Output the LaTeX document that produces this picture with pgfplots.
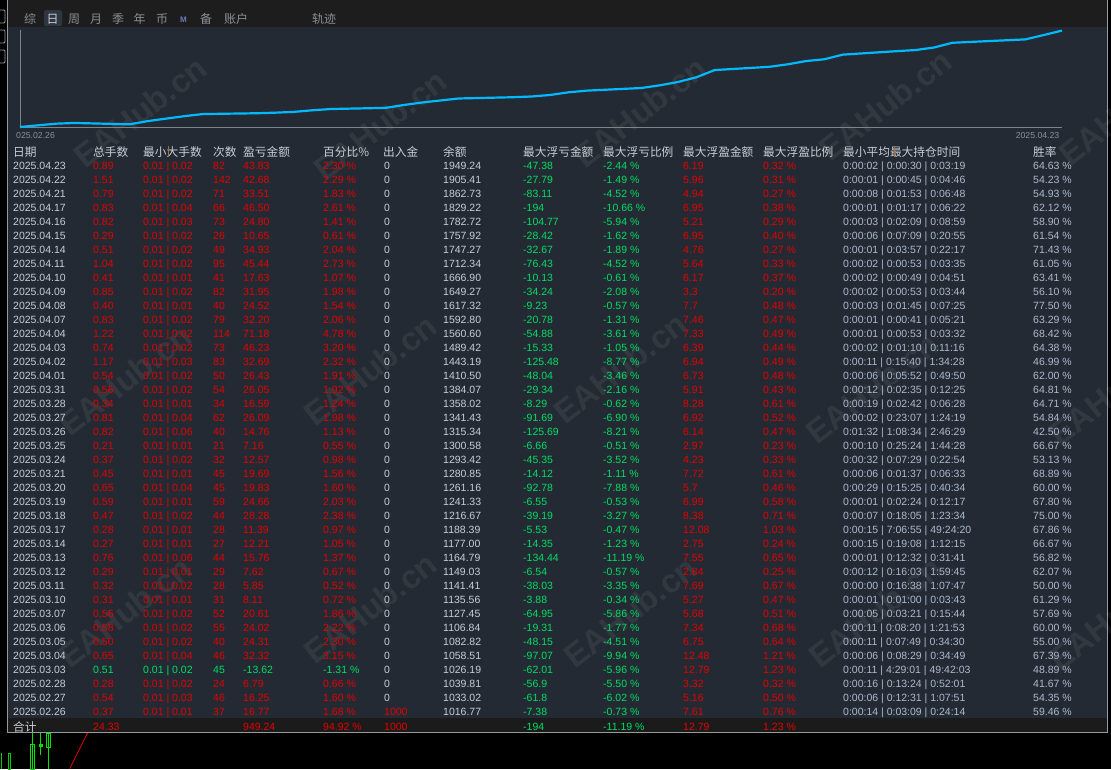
\documentclass[border=0pt]{standalone}
\usepackage{pgfplots}
\pgfplotsset{compat=1.18}
\usepackage{fontspec}
\setmainfont{Liberation Sans}
\newfontfamily\cjk{Noto Sans CJK SC}
\definecolor{panel}{RGB}{36,42,51}
\definecolor{topbar}{RGB}{29,29,29}
\definecolor{totbg}{RGB}{27,27,28}
\definecolor{txt}{RGB}{200,206,214}
\definecolor{rd}{RGB}{228,0,0}
\definecolor{gn}{RGB}{0,222,100}
\definecolor{bl}{RGB}{172,186,206}
\definecolor{cy}{RGB}{0,185,255}
\definecolor{axg}{RGB}{128,132,138}
\definecolor{tabg}{RGB}{138,143,150}
\definecolor{brd}{RGB}{150,155,162}
\definecolor{orb}{RGB}{160,115,60}
\definecolor{tabsel}{RGB}{46,54,65}
\definecolor{mcol}{RGB}{110,120,190}
\newcommand\tf{\fontsize{10.5}{12}\selectfont}
\newcommand\hf{\cjk\fontsize{11.7}{13}\selectfont}
\newcommand\Cc[4]{\node[anchor=base west,inner sep=0pt,text=#3,font=\tf] at (#1,#2) {#4};}
\newcommand\Hh[2]{\node[anchor=base west,inner sep=0pt,text=txt,font=\hf] at (#1,156) {#2};}
\newcommand\Tt[3]{\node[anchor=base west,inner sep=0pt,text=#2,font=\cjk\fontsize{12}{13}\selectfont] at (#1,23) {#3};}
\begin{document}
\begin{tikzpicture}
\useasboundingbox (0,0) rectangle (1111pt,-769pt);
\fill[black] (0,0) rectangle (1111pt,-769pt);
\begin{scope}[x=1pt,y=-1pt]
\fill[topbar] (7,0) rectangle (1107,27);
\fill[panel] (7,27) rectangle (1107,718);
\fill[totbg] (7.5,718) rectangle (1107,732);
\draw[brd,line width=0.9pt] (7,0) -- (7,732.5) -- (1107.5,732.5) -- (1107.5,0);
% sidebar boxes
\foreach \yy in {10,30,50} \draw[brd,line width=0.8pt,rounded corners=1pt] (-2,\yy) rectangle (5,\yy+13);
% background candles
\draw[green!80!black,line width=1pt] (1,753) -- (1,769);
\draw[green!80!black,line width=1pt] (8,753) rectangle (10.5,769);
\draw[green!90!black,line width=1pt] (32.5,733) -- (32.5,769);
\draw[green!90!black,line width=1pt] (30.5,744) rectangle (34.5,769);
\draw[green!90!black,line width=1pt] (40.5,733) -- (40.5,755);
\fill[green!90!black] (38.5,744) rectangle (43,747);
\draw[green!90!black,line width=1pt] (48.5,733) -- (48.5,769);
\draw[green!90!black,line width=1pt] (46.5,733) rectangle (50.5,747);
\draw[red,line width=0.7pt] (87.5,733) -- (69.6,769);
% tabs
\fill[tabsel,rounded corners=1.5pt] (44,10) rectangle (62,26);
\Tt{24}{tabg}{综}\Tt{46.5}{txt}{日}\Tt{68}{tabg}{周}\Tt{90}{tabg}{月}\Tt{112}{tabg}{季}\Tt{133.5}{tabg}{年}\Tt{156}{tabg}{币}
\node[anchor=base west,inner sep=0pt,text=mcol,font=\fontsize{8}{9}\selectfont\bfseries] at (180,22) {M};
\Tt{200}{tabg}{备}\Tt{224}{tabg}{账户}\Tt{312}{tabg}{轨迹}
% watermarks
\foreach \wx/\wy in {140/112,380/125,640/112,885/105,1125/110,125/380,370/370,620/368,872/388,1115/390,125/612,370/608,630/612,875/612,1115/615}
  \node[rotate=38,text=white,opacity=0.065,inner sep=0pt,font=\fontsize{33}{33}\selectfont\bfseries] at (\wx,\wy) {EAHub.cn};
% axis tick labels
\node[anchor=base west,inner sep=0pt,text=tabg,font=\fontsize{8.7}{9}\selectfont] at (16,138) {025.02.26};
\node[anchor=base east,inner sep=0pt,text=tabg,font=\fontsize{8.7}{9}\selectfont] at (1059.5,138) {2025.04.23};
% header
\Hh{13}{日期}\Hh{93}{总手数}\Hh{143}{最小大手数}\Hh{213}{次数}\Hh{243}{盈亏金额}\Hh{323}{百分比\%}\Hh{383}{出入金}
\Hh{443}{余额}\Hh{523}{最大浮亏金额}\Hh{603}{最大浮亏比例}\Hh{683}{最大浮盈金额}\Hh{763}{最大浮盈比例}\Hh{843}{最小平均最大持仓时间}\Hh{1033}{胜率}
\draw[orb,line width=1pt] (168,146) -- (168,157);
\draw[orb,line width=1pt] (894,146) -- (894,157);
% rows
\foreach \y/\cl/\d/\lot/\lo/\hi/\n/\pl/\pc/\ic/\io/\bal/\dd/\ddp/\rp/\rpp/\ta/\tb/\tc/\w in {
169/rd/2025.04.23/0.89/0.01/0.02/82/43.83/2.30/txt/0/1949.24/-47.38/-2.44/6.19/0.32/0:00:02/0:00:30/0:03:19/64.63,
183/rd/2025.04.22/1.51/0.01/0.02/142/42.68/2.29/txt/0/1905.41/-27.79/-1.49/5.96/0.31/0:00:01/0:00:45/0:04:46/54.23,
197/rd/2025.04.21/0.79/0.01/0.02/71/33.51/1.83/txt/0/1862.73/-83.11/-4.52/4.94/0.27/0:00:08/0:01:53/0:06:48/54.93,
211/rd/2025.04.17/0.83/0.01/0.04/66/46.50/2.61/txt/0/1829.22/-194/-10.66/6.95/0.38/0:00:01/0:01:17/0:06:22/62.12,
225/rd/2025.04.16/0.82/0.01/0.03/73/24.80/1.41/txt/0/1782.72/-104.77/-5.94/5.21/0.29/0:00:03/0:02:09/0:08:59/58.90,
239/rd/2025.04.15/0.29/0.01/0.02/26/10.65/0.61/txt/0/1757.92/-28.42/-1.62/6.95/0.40/0:00:06/0:07:09/0:20:55/61.54,
253/rd/2025.04.14/0.51/0.01/0.02/49/34.93/2.04/txt/0/1747.27/-32.67/-1.89/4.76/0.27/0:00:01/0:03:57/0:22:17/71.43,
267/rd/2025.04.11/1.04/0.01/0.02/95/45.44/2.73/txt/0/1712.34/-76.43/-4.52/5.64/0.33/0:00:02/0:00:53/0:03:35/61.05,
281/rd/2025.04.10/0.41/0.01/0.01/41/17.63/1.07/txt/0/1666.90/-10.13/-0.61/6.17/0.37/0:00:02/0:00:49/0:04:51/63.41,
295/rd/2025.04.09/0.85/0.01/0.02/82/31.95/1.98/txt/0/1649.27/-34.24/-2.08/3.3/0.20/0:00:02/0:00:53/0:03:44/56.10,
309/rd/2025.04.08/0.40/0.01/0.01/40/24.52/1.54/txt/0/1617.32/-9.23/-0.57/7.7/0.48/0:00:03/0:01:45/0:07:25/77.50,
323/rd/2025.04.07/0.83/0.01/0.02/79/32.20/2.06/txt/0/1592.80/-20.78/-1.31/7.46/0.47/0:00:01/0:00:41/0:05:21/63.29,
337/rd/2025.04.04/1.22/0.01/0.02/114/71.18/4.78/txt/0/1560.60/-54.88/-3.61/7.33/0.49/0:00:01/0:00:53/0:03:32/68.42,
351/rd/2025.04.03/0.74/0.01/0.02/73/46.23/3.20/txt/0/1489.42/-15.33/-1.05/6.39/0.44/0:00:02/0:01:10/0:11:16/64.38,
365/rd/2025.04.02/1.17/0.01/0.03/83/32.69/2.32/txt/0/1443.19/-125.48/-8.77/6.94/0.49/0:00:11/0:15:40/1:34:28/46.99,
379/rd/2025.04.01/0.54/0.01/0.02/50/26.43/1.91/txt/0/1410.50/-48.04/-3.46/6.73/0.48/0:00:06/0:05:52/0:49:50/62.00,
393/rd/2025.03.31/0.56/0.01/0.02/54/26.05/1.92/txt/0/1384.07/-29.34/-2.16/5.91/0.43/0:00:12/0:02:35/0:12:25/64.81,
407/rd/2025.03.28/0.34/0.01/0.01/34/16.59/1.24/txt/0/1358.02/-8.29/-0.62/8.28/0.61/0:00:19/0:02:42/0:06:28/64.71,
421/rd/2025.03.27/0.81/0.01/0.04/62/26.09/1.98/txt/0/1341.43/-91.69/-6.90/6.92/0.52/0:00:02/0:23:07/1:24:19/54.84,
435/rd/2025.03.26/0.82/0.01/0.06/40/14.76/1.13/txt/0/1315.34/-125.69/-8.21/6.14/0.47/0:01:32/1:08:34/2:46:29/42.50,
449/rd/2025.03.25/0.21/0.01/0.01/21/7.16/0.55/txt/0/1300.58/-6.66/-0.51/2.97/0.23/0:00:10/0:25:24/1:44:28/66.67,
463/rd/2025.03.24/0.37/0.01/0.02/32/12.57/0.98/txt/0/1293.42/-45.35/-3.52/4.23/0.33/0:00:32/0:07:29/0:22:54/53.13,
477/rd/2025.03.21/0.45/0.01/0.01/45/19.69/1.56/txt/0/1280.85/-14.12/-1.11/7.72/0.61/0:00:06/0:01:37/0:06:33/68.89,
491/rd/2025.03.20/0.65/0.01/0.04/45/19.83/1.60/txt/0/1261.16/-92.78/-7.88/5.7/0.46/0:00:29/0:15:25/0:40:34/60.00,
505/rd/2025.03.19/0.59/0.01/0.01/59/24.66/2.03/txt/0/1241.33/-6.55/-0.53/6.99/0.58/0:00:01/0:02:24/0:12:17/67.80,
519/rd/2025.03.18/0.47/0.01/0.02/44/28.28/2.38/txt/0/1216.67/-39.19/-3.27/8.38/0.71/0:00:07/0:18:05/1:23:34/75.00,
533/rd/2025.03.17/0.28/0.01/0.01/28/11.39/0.97/txt/0/1188.39/-5.53/-0.47/12.08/1.03/0:00:15/7:06:55/49:24:20/67.86,
547/rd/2025.03.14/0.27/0.01/0.01/27/12.21/1.05/txt/0/1177.00/-14.35/-1.23/2.75/0.24/0:00:15/0:19:08/1:12:15/66.67,
561/rd/2025.03.13/0.76/0.01/0.06/44/15.76/1.37/txt/0/1164.79/-134.44/-11.19/7.55/0.65/0:00:01/0:12:32/0:31:41/56.82,
575/rd/2025.03.12/0.29/0.01/0.01/29/7.62/0.67/txt/0/1149.03/-6.54/-0.57/2.84/0.25/0:00:12/0:16:03/1:59:45/62.07,
589/rd/2025.03.11/0.32/0.01/0.02/28/5.85/0.52/txt/0/1141.41/-38.03/-3.35/7.69/0.67/0:00:00/0:16:38/1:07:47/50.00,
603/rd/2025.03.10/0.31/0.01/0.01/31/8.11/0.72/txt/0/1135.56/-3.88/-0.34/5.27/0.47/0:00:01/0:01:00/0:03:43/61.29,
617/rd/2025.03.07/0.56/0.01/0.02/52/20.61/1.86/txt/0/1127.45/-64.95/-5.86/5.68/0.51/0:00:05/0:03:21/0:15:44/57.69,
631/rd/2025.03.06/0.58/0.01/0.02/55/24.02/2.22/txt/0/1106.84/-19.31/-1.77/7.34/0.68/0:00:11/0:08:20/1:21:53/60.00,
645/rd/2025.03.05/0.50/0.01/0.02/40/24.31/2.30/txt/0/1082.82/-48.15/-4.51/6.75/0.64/0:00:11/0:07:49/0:34:30/55.00,
659/rd/2025.03.04/0.65/0.01/0.04/46/32.32/3.15/txt/0/1058.51/-97.07/-9.94/12.48/1.21/0:00:06/0:08:29/0:34:49/67.39,
673/gn/2025.03.03/0.51/0.01/0.02/45/-13.62/-1.31/txt/0/1026.19/-62.01/-5.96/12.79/1.23/0:00:11/4:29:01/49:42:03/48.89,
687/rd/2025.02.28/0.28/0.01/0.02/24/6.79/0.66/txt/0/1039.81/-56.9/-5.50/3.32/0.32/0:00:16/0:13:24/0:52:01/41.67,
701/rd/2025.02.27/0.54/0.01/0.03/46/16.25/1.60/txt/0/1033.02/-61.8/-6.02/5.16/0.50/0:00:06/0:12:31/1:07:51/54.35,
715/rd/2025.02.26/0.37/0.01/0.01/37/16.77/1.68/rd/1000/1016.77/-7.38/-0.73/7.61/0.76/0:00:14/0:03:09/0:24:14/59.46}{
\Cc{13}{\y}{txt}{\d}\Cc{93}{\y}{\cl}{\lot}\Cc{143}{\y}{\cl}{\lo\ |\ \hi}\Cc{213}{\y}{\cl}{\n}\Cc{243}{\y}{\cl}{\pl}\Cc{323}{\y}{\cl}{\pc\ \%}
\Cc{384}{\y}{\ic}{\io}\Cc{443}{\y}{txt}{\bal}\Cc{523}{\y}{gn}{\dd}\Cc{603}{\y}{gn}{\ddp\ \%}\Cc{683}{\y}{rd}{\rp}\Cc{763}{\y}{rd}{\rpp\ \%}
\Cc{843}{\y}{bl}{\ta\ |\ \tb\ |\ \tc}\Cc{1033}{\y}{bl}{\w\ \%}
}
% total row
\node[anchor=base west,inner sep=0pt,text=txt,font=\hf] at (13,731) {合计};
\Cc{93}{730}{rd}{24.33}\Cc{243}{730}{rd}{949.24}\Cc{323}{730}{rd}{94.92 \%}\Cc{384}{730}{rd}{1000}
\Cc{523}{730}{gn}{-194}\Cc{603}{730}{gn}{-11.19 \%}\Cc{683}{730}{rd}{12.79}\Cc{763}{730}{rd}{1.23 \%}
\end{scope}
\begin{axis}[at={(20pt,-127pt)},anchor=south west,scale only axis,width=1042pt,height=97pt,
  xmin=0,xmax=57,ymin=1000,ymax=1955,
  axis x line*=bottom,axis y line*=left,axis line style={axg,line width=0.9pt,-},
  xtick=\empty,ytick=\empty,clip=false]
\addplot[cy,line width=2.2pt,line join=round,mark=none] coordinates {
(0,1000)(1,1016.77)(2,1033.02)(3,1039.81)(6,1026.19)(7,1058.51)(8,1082.82)(9,1106.84)(10,1127.45)
(13,1135.56)(14,1141.41)(15,1149.03)(16,1164.79)(17,1177.00)(20,1188.39)(21,1216.67)(22,1241.33)
(23,1261.16)(24,1280.85)(27,1293.42)(28,1300.58)(29,1315.34)(30,1341.43)(31,1358.02)(34,1384.07)
(35,1410.50)(36,1443.19)(37,1489.42)(38,1560.60)(41,1592.80)(42,1617.32)(43,1649.27)(44,1666.90)
(45,1712.34)(48,1747.27)(49,1757.92)(50,1782.72)(51,1829.22)(55,1862.73)(56,1905.41)(57,1949.24)};
\end{axis}
\end{tikzpicture}
\end{document}
